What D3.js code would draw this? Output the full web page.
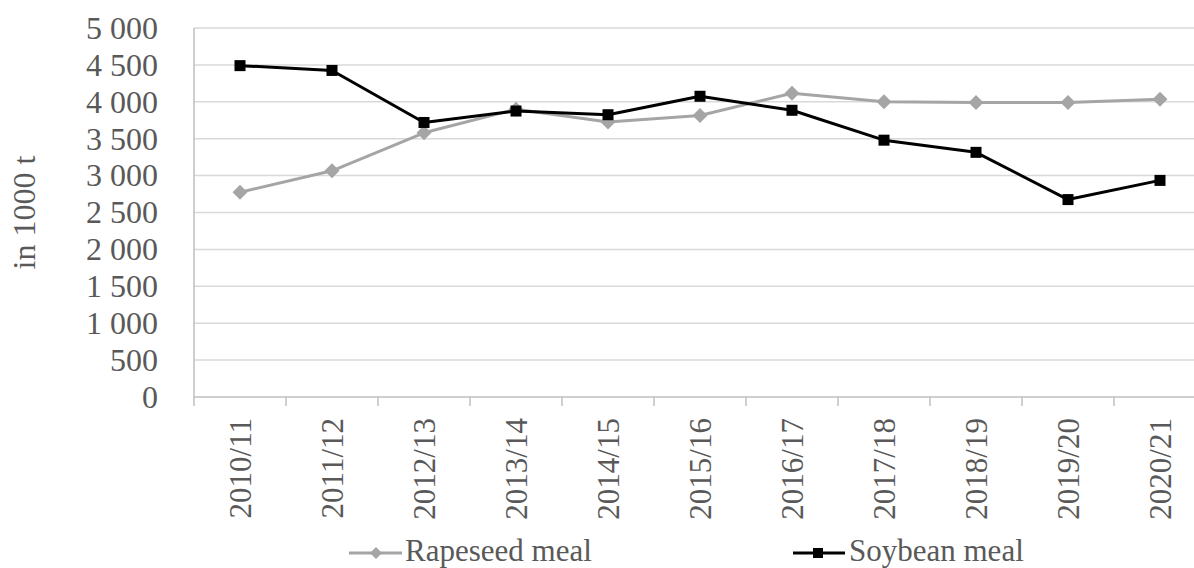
<!DOCTYPE html>
<html>
<head>
<meta charset="utf-8">
<script src="https://cdn.jsdelivr.net/npm/d3@7"></script>
<style>
  html, body { margin: 0; padding: 0; background: #ffffff; }
  svg { display: block; }
</style>
</head>
<body>
<svg id="chart" width="1194" height="568"></svg>
<script>
// Marketing years
const seasons = ["2010/11", "2011/12", "2012/13", "2013/14", "2014/15", "2015/16",
                 "2016/17", "2017/18", "2018/19", "2019/20", "2020/21"];
// Consumption, in 1000 t
const rapeseedMeal = [2775, 3065, 3580, 3900, 3725, 3815, 4115, 4000, 3990, 3990, 4035];
const soybeanMeal  = [4490, 4425, 3720, 3875, 3825, 4075, 3885, 3480, 3315, 2675, 2935];
// Value axis ticks
const yTicks = [0, 500, 1000, 1500, 2000, 2500, 3000, 3500, 4000, 4500, 5000];
const yTitle = "in 1000 t";
const seriesNames = ["Rapeseed meal", "Soybean meal"];

const svg = d3.select("#chart")
  .style("font-family", '"Liberation Serif"');

const textColor = "#595959";
const plotLeft = 194, plotTop = 28, plotBottom = 397, step = 92;
const x = d3.scaleBand().domain(seasons).range([plotLeft, plotLeft + step * seasons.length]).padding(0);
const y = d3.scaleLinear().domain([0, 5000]).range([plotBottom, plotTop]);

const fmt = d3.formatLocale({ decimal: ".", thousands: "\u00a0", grouping: [3], currency: ["", ""] }).format(",d");

// Horizontal gridlines
svg.append("g")
  .selectAll("line")
  .data(yTicks.filter(v => v > 0))
  .join("line")
  .attr("x1", plotLeft).attr("x2", x.range()[1])
  .attr("y1", d => y(d)).attr("y2", d => y(d))
  .attr("stroke", "#d9d9d9").attr("stroke-width", 1.5);

// Value axis labels
svg.append("g")
  .selectAll("text")
  .data(yTicks)
  .join("text")
  .attr("x", 158)
  .attr("y", d => y(d))
  .attr("dy", "0.34em")
  .attr("text-anchor", "end")
  .attr("fill", textColor)
  .style("font-size", "32px")
  .text(d => fmt(d));

// Axis lines
svg.append("line")
  .attr("x1", plotLeft).attr("x2", plotLeft).attr("y1", y(5000)).attr("y2", y(0))
  .attr("stroke", "#bfbfbf").attr("stroke-width", 1.5);
svg.append("line")
  .attr("x1", plotLeft).attr("x2", x.range()[1]).attr("y1", y(0)).attr("y2", y(0))
  .attr("stroke", "#bfbfbf").attr("stroke-width", 1.5);

// Category boundary ticks
const boundaries = seasons.map(s => x(s)).concat([x.range()[1]]);
svg.append("g")
  .selectAll("line")
  .data(boundaries)
  .join("line")
  .attr("x1", d => d).attr("x2", d => d)
  .attr("y1", y(0)).attr("y2", y(0) + 9)
  .attr("stroke", "#bfbfbf").attr("stroke-width", 1.5);

// Category labels, rotated
svg.append("g")
  .selectAll("text")
  .data(seasons)
  .join("text")
  .attr("transform", d => `translate(${x(d) + x.bandwidth() / 2 + 11},418) rotate(-90)`)
  .attr("text-anchor", "end")
  .attr("fill", textColor)
  .style("font-size", "31px")
  .text(d => d);

// Axis title
svg.append("text")
  .attr("transform", `translate(35,${(y(0) + y(5000)) / 2}) rotate(-90)`)
  .attr("text-anchor", "middle")
  .attr("fill", textColor)
  .style("font-size", "32px")
  .text(yTitle);

const cx = d => x(d) + x.bandwidth() / 2;
const line = d3.line().x(d => cx(d.s)).y(d => y(d.v));

const rapeData = seasons.map((s, i) => ({ s, v: rapeseedMeal[i] }));
const soyData = seasons.map((s, i) => ({ s, v: soybeanMeal[i] }));

const diamond = r => `M0,${-r}L${r},0L0,${r}L${-r},0Z`;

// Rapeseed meal series
svg.append("path").datum(rapeData)
  .attr("d", line).attr("fill", "none")
  .attr("stroke", "#a5a5a5").attr("stroke-width", 3).attr("stroke-linejoin", "round");
svg.append("g").selectAll("path").data(rapeData).join("path")
  .attr("transform", d => `translate(${cx(d.s)},${y(d.v)})`)
  .attr("d", diamond(7.5)).attr("fill", "#a5a5a5");

// Soybean meal series
svg.append("path").datum(soyData)
  .attr("d", line).attr("fill", "none")
  .attr("stroke", "#000000").attr("stroke-width", 3).attr("stroke-linejoin", "round");
svg.append("g").selectAll("rect").data(soyData).join("rect")
  .attr("x", d => cx(d.s) - 5.5).attr("y", d => y(d.v) - 5.5)
  .attr("width", 11).attr("height", 11).attr("fill", "#000000");

// Legend
const legendY = 553;
const lg1 = svg.append("g");
lg1.append("line").attr("x1", 349).attr("x2", 402).attr("y1", legendY).attr("y2", legendY)
  .attr("stroke", "#a5a5a5").attr("stroke-width", 3);
lg1.append("path").attr("transform", `translate(376,${legendY})`).attr("d", diamond(6)).attr("fill", "#a5a5a5");
lg1.append("text").attr("x", 405).attr("y", 561).attr("fill", textColor)
  .style("font-size", "31px").text(seriesNames[0]);

const lg2 = svg.append("g");
lg2.append("line").attr("x1", 793).attr("x2", 845).attr("y1", legendY).attr("y2", legendY)
  .attr("stroke", "#000000").attr("stroke-width", 3);
lg2.append("rect").attr("x", 813).attr("y", legendY - 5).attr("width", 10).attr("height", 10).attr("fill", "#000000");
lg2.append("text").attr("x", 849).attr("y", 561).attr("fill", textColor)
  .style("font-size", "31px").text(seriesNames[1]);
</script>
</body>
</html>
